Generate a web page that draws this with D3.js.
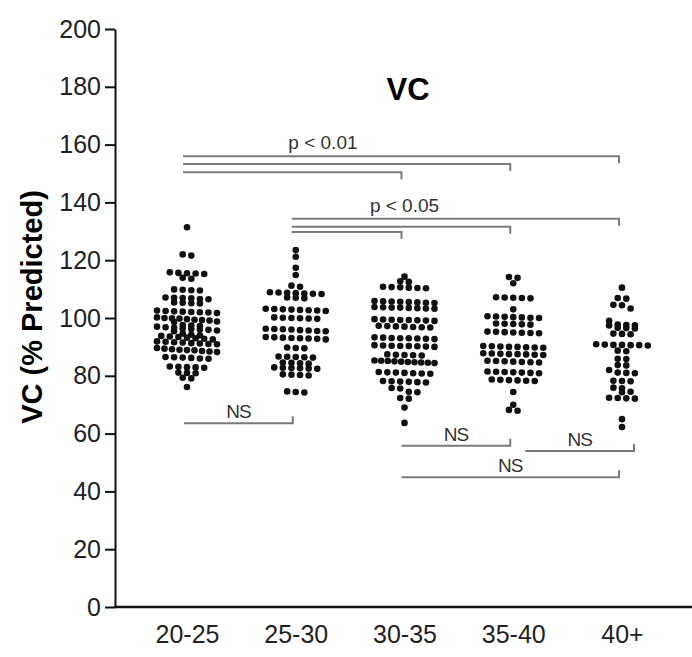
<!DOCTYPE html>
<html>
<head>
<meta charset="utf-8">
<script src="https://cdn.jsdelivr.net/npm/d3@7"></script>
<style>
body { margin: 0; background: #fff; }
text { font-family: "Liberation Sans", Arial, Helvetica, sans-serif; }
</style>
</head>
<body>
<script>
//age groups on the x axis
var groups = ["20-25", "25-30", "30-35", "35-40", "40+"];

//VC (% predicted)
var vc2025 = [131.4,
    122.0, 121.6,
    115.8, 115.5, 115.2, 115.6, 115.4,
    113.9, 113.6,
    109.8, 109.6, 109.9, 109.5,
    107.0, 106.8, 106.6, 106.9, 106.5, 107.1,
    105.3, 105.0, 105.4, 105.1,
    102.4, 102.1, 102.3, 101.9, 102.6, 102.0, 101.7, 102.2,
    100.2, 99.8, 99.4, 99.1, 99.6, 100.0, 98.8, 99.3, 98.6, 99.9,
    97.6, 97.2, 96.8, 96.4, 96.0, 95.7, 97.0, 96.6, 96.2, 95.4, 97.4, 95.9,
    94.6, 94.2, 93.8, 93.4, 93.0, 92.6, 94.0, 93.6, 93.2, 92.8,
    91.8, 91.5, 91.2, 90.9, 91.6, 91.0, 91.3, 91.9,
    89.6, 89.2, 88.8, 88.4, 89.0, 88.6, 89.4, 88.2, 88.9,
    86.5, 86.2, 85.9, 86.4, 86.0, 86.3,
    83.2, 83.0, 82.8, 83.1, 82.9,
    81.1, 80.9, 81.0,
    79.3, 79.1,
    76.1];

var vc2530 = [123.5, 121.2, 117.4, 114.9,
    111.2, 110.8,
    108.8, 108.6, 108.4, 108.9, 108.5, 108.7, 108.3,
    107.1, 106.8, 107.0,
    103.2, 102.9, 102.6, 103.0, 102.7, 102.4, 103.1, 102.8,
    100.2, 100.0, 99.8, 100.1, 99.7, 99.9,
    96.3, 96.0, 95.7, 95.4, 96.1, 95.8, 95.5, 96.2,
    93.4, 93.1, 92.8, 93.2, 92.9, 92.6, 93.0, 93.3,
    89.8, 89.5, 89.6,
    86.7, 86.5, 86.3, 86.6, 86.4,
    84.6, 84.3, 84.5, 84.2,
    82.9, 82.7, 82.5, 82.8, 82.6, 82.4,
    80.5, 80.3, 80.1, 80.4,
    74.6, 74.2, 74.4];

var vc3035 = [114.3,
    112.7, 112.5,
    110.7, 110.5, 110.3, 110.6, 110.4, 110.8,
    105.8, 105.5, 105.2, 105.7, 105.4, 105.6, 105.3, 105.9,
    103.7, 103.4, 103.6, 103.3, 103.5, 103.8, 103.2, 103.6,
    99.5, 99.3, 99.1, 99.4, 99.2, 99.6, 99.0, 99.3,
    97.2, 97.0, 96.8, 97.1, 96.9, 97.3, 96.7,
    93.2, 93.0, 92.8, 93.1, 92.9, 93.3, 92.7, 93.0,
    90.5, 90.3, 90.1, 90.4, 90.2, 90.6, 90.0, 90.3,
    87.4, 87.2, 87.0, 87.3, 87.1,
    85.2, 85.0, 84.8, 84.6, 85.1, 84.9, 84.7, 85.3, 84.5, 84.4,
    81.2, 81.0, 80.8, 81.1, 80.9, 81.3, 80.7,
    78.1, 77.9, 77.7, 78.0, 77.8, 78.2,
    75.8, 75.6,
    74.5, 74.3,
    72.3, 72.1,
    69.0,
    63.7];

var vc3540 = [114.2, 113.9,
    112.0,
    107.2, 107.0, 106.8, 107.1, 106.9,
    103.0,
    100.4, 100.2, 100.0, 100.5, 100.3, 100.1, 100.6,
    98.1, 97.9, 97.7, 98.0, 97.8,
    95.2, 95.0, 94.8, 95.1, 94.9, 95.3, 94.7,
    90.2, 90.0, 89.8, 90.1, 89.9, 90.3, 89.7, 90.0,
    87.7, 87.5, 87.3, 87.6, 87.4, 87.8, 87.2, 87.5,
    85.1, 84.9, 84.7, 85.0, 84.8, 85.2, 84.6,
    81.4, 81.2, 81.0, 81.3, 81.1, 81.5, 80.9,
    78.6, 78.4, 78.2, 78.5, 78.3, 78.7,
    74.4,
    70.0,
    68.2, 67.9];

var vc40 = [110.5,
    106.9, 106.7,
    104.6, 104.4,
    103.3,
    99.0,
    97.7, 97.5, 97.6, 97.4,
    96.6, 96.4, 96.5,
    94.6, 94.4, 94.5,
    90.8, 90.6, 90.7, 90.5, 90.9, 90.6, 90.7,
    88.7, 88.5,
    85.8, 85.9,
    83.7, 83.6,
    82.0,
    81.1, 80.9, 81.0,
    78.3, 78.1, 78.2,
    75.9, 75.7,
    74.5, 74.3,
    72.4, 72.2, 72.3, 72.1,
    65.0,
    62.3];

var series = [vc2025, vc2530, vc3035, vc3540, vc40];

var yTicks = [0, 20, 40, 60, 80, 100, 120, 140, 160, 180, 200];

//significance brackets (level in % predicted)
var sigBrackets = [
    { from: "20-25", to: "40+", level: 156.0 },
    { from: "20-25", to: "35-40", level: 153.3 },
    { from: "20-25", to: "30-35", level: 150.4 },
    { from: "25-30", to: "40+", level: 134.3 },
    { from: "25-30", to: "35-40", level: 131.6 },
    { from: "25-30", to: "30-35", level: 129.8 }
];
var sigLabels = [
    { text: "p < 0.01", at: 1.25, level: 158.5 },
    { text: "p < 0.05", at: 2.0, level: 136.8 }
];
var nsBrackets = [
    { from: "20-25", to: "25-30", level: 63.6 },
    { from: "30-35", to: "35-40", level: 55.8 },
    { from: "35-40", to: "40+", level: 54.0 },
    { from: "30-35", to: "40+", level: 44.9 }
];

var width = 692,
    height = 657;

//hand-placed sideways nudge of each NS bracket, in px
var nsNudge = [0, 0, 15, 0];

var svg = d3.select("body")
    .append("svg")
    .attr("width", width)
    .attr("height", height);

var x = d3.scalePoint()
    .domain(groups)
    .range([187, 622]);

var y = d3.scaleLinear()
    .domain([0, 200])
    .range([607, 29]);

//title
svg.append("text")
    .attr("x", 408)
    .attr("y", 100)
    .attr("text-anchor", "middle")
    .style("font-size", "31px")
    .style("font-weight", "bold")
    .text("VC");

//y axis
var yAxis = svg.append("g")
    .attr("transform", "translate(115,0)")
    .call(d3.axisLeft(y).tickValues(yTicks).tickSize(10).tickSizeOuter(0).tickPadding(4));
yAxis.selectAll("path, line").attr("stroke", "#111").attr("stroke-width", 2);
yAxis.selectAll("text").style("font-size", "25px").attr("fill", "#222")
    .style("font-family", "'Liberation Sans', Arial, sans-serif");

//x axis
svg.append("line")
    .attr("x1", 114).attr("x2", width)
    .attr("y1", y(0)).attr("y2", y(0))
    .attr("stroke", "#111").attr("stroke-width", 2.5);
var xAxis = svg.append("g")
    .attr("transform", "translate(0," + y(0) + ")")
    .call(d3.axisBottom(x).tickSize(0).tickPadding(18));
xAxis.select(".domain").remove();
xAxis.selectAll("text").style("font-size", "25px").attr("fill", "#222")
    .style("font-family", "'Liberation Sans', Arial, sans-serif");

//y axis label
svg.append("text")
    .attr("transform", "translate(32,307) rotate(-90)")
    .attr("text-anchor", "middle")
    .attr("dy", "0.35em")
    .style("font-size", "29px")
    .style("font-weight", "bold")
    .text("VC (% Predicted)");

//prism-style scatter: dots that share a row are spread sideways,
//rows squeeze together when they would get too wide
function scatterRows(values) {
    var sorted = values.slice().sort(d3.descending);
    var rows = [], row = [];
    sorted.forEach(function (v) {
        if (row.length && y(v) - y(row[0]) > 4.5) {
            rows.push(row);
            row = [];
        }
        row.push(v);
    });
    rows.push(row);

    var pts = [];
    rows.forEach(function (r) {
        var n = r.length;
        var s = n > 1 ? Math.min(8.6, 60 / (n - 1)) : 0;
        r.forEach(function (v, i) {
            pts.push({ x: (i - (n - 1) / 2) * s, y: y(v) });
        });
    });
    return pts;
}

series.forEach(function (vals, i) {
    var cx = x(groups[i]);
    svg.append("g")
        .selectAll("circle")
        .data(scatterRows(vals))
        .enter()
        .append("circle")
        .attr("cx", function (d) { return cx + d.x; })
        .attr("cy", function (d) { return d.y; })
        .attr("r", 3.3)
        .attr("fill", "#111");
});

//brackets
var grey = "#7a7a7a";
var brk = svg.append("g").attr("fill", "none").attr("stroke", grey).attr("stroke-width", 2);

sigBrackets.forEach(function (b) {
    var x0 = x(b.from) - 4, x1 = x(b.to) - 3, by = y(b.level);
    brk.append("path").attr("d", "M" + x0 + "," + by + "H" + x1 + "V" + (by + 7));
});
nsBrackets.forEach(function (b, i) {
    var x0 = x(b.from) - 3 + nsNudge[i], x1 = x(b.to) - 3 + nsNudge[i], by = y(b.level);
    brk.append("path").attr("d", "M" + x0 + "," + by + "H" + x1 + "V" + (by - 7));
    svg.append("text")
        .attr("x", (x0 + x1) / 2)
        .attr("y", by - 5)
        .attr("text-anchor", "middle")
        .attr("fill", "#333")
        .style("font-size", "19px")
        .style("letter-spacing", "-1px")
        .text("NS");
});
sigLabels.forEach(function (l) {
    svg.append("text")
        .attr("x", x(groups[0]) + l.at * x.step())
        .attr("y", y(l.level))
        .attr("text-anchor", "middle")
        .attr("fill", "#333")
        .style("font-size", "19px")
        .text(l.text);
});
</script>
</body>
</html>
